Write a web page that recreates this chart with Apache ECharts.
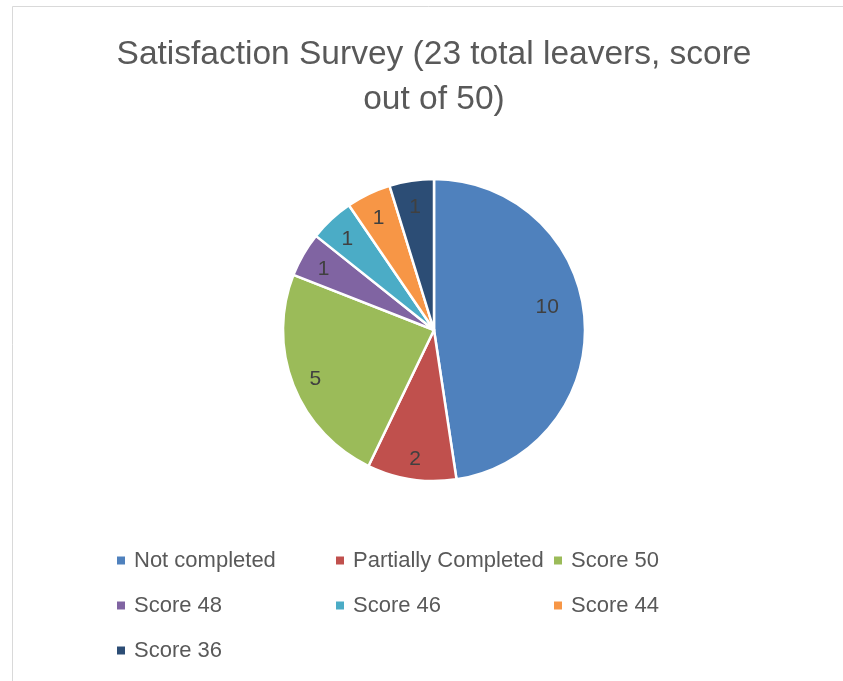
<!DOCTYPE html>
<html>
<head>
<meta charset="utf-8">
<script src="https://cdn.jsdelivr.net/npm/echarts@6/dist/echarts.min.js"></script>
<style>
  html, body { margin: 0; padding: 0; background: #fff; }
  #chart { width: 843px; height: 681px; }
</style>
</head>
<body>
<div id="chart"></div>
<script>
const categories = ['Not completed', 'Partially Completed', 'Score 50', 'Score 48', 'Score 46', 'Score 44', 'Score 36']
const counts = [10, 2, 5, 1, 1, 1, 1]
const colors = ['#4F81BD', '#C0504D', '#9BBB59', '#8064A2', '#4BACC6', '#F79646', '#2C4D75']
const titleText = 'Satisfaction Survey (23 total leavers, score\nout of 50)'

const font = '"Liberation Sans", Arial, sans-serif'
const pieData = categories.map((name, i) => ({ name, value: counts[i] }))

const chart = echarts.init(document.getElementById('chart'))

const legendBase = {
  orient: 'vertical',
  icon: 'rect',
  itemWidth: 8,
  itemHeight: 8,
  itemGap: 23,
  padding: 0,
  selectedMode: false,
  itemStyle: { borderWidth: 0 },
  textStyle: { color: '#595959', fontSize: 22, lineHeight: 22, fontFamily: font, padding: [0, 0, 0, 4] },
}

const option = {
  backgroundColor: '#fff',
  color: colors,
  animation: false,
  title: {
    text: titleText,
    left: 429,
    top: 27,
    textAlign: 'center',
    textStyle: { color: '#595959', fontSize: 33.5, fontWeight: 'normal', fontFamily: font, lineHeight: 45 },
  },
  graphic: [{
    type: 'rect',
    shape: { x: 12.5, y: 6.5, width: 900, height: 700 },
    style: { fill: 'none', stroke: '#d9d9d9', lineWidth: 1 },
    silent: true,
  }],
  legend: [
    { ...legendBase, left: 117, top: 549.5, data: ['Not completed', 'Score 48', 'Score 36'] },
    { ...legendBase, left: 336, top: 549.5, data: ['Partially Completed', 'Score 46'] },
    { ...legendBase, left: 554, top: 549.5, data: ['Score 50', 'Score 44'] },
  ],
  series: [
    {
      type: 'pie',
      center: [434, 330],
      radius: [0, 151],
      startAngle: 90,
      clockwise: true,
      silent: true,
      itemStyle: { borderColor: '#fff', borderWidth: 2.5 },
      label: { show: false },
      labelLine: { show: false },
      data: pieData,
    },
    {
      // label-only ring so the numbers sit near the rim like the original
      type: 'pie',
      center: [434, 330],
      radius: [98, 151],
      startAngle: 90,
      clockwise: true,
      silent: true,
      itemStyle: { color: 'rgba(0,0,0,0)' },
      label: {
        show: true,
        position: 'inside',
        formatter: '{c}',
        color: '#404040',
        fontSize: 21,
        fontFamily: font,
        offset: [0, 3],
      },
      labelLine: { show: false },
      data: pieData.map((d, i) => i === 0 ? { ...d, label: { offset: [-14, -13] } } : d),
    },
  ],
}

chart.setOption(option)
</script>
</body>
</html>
